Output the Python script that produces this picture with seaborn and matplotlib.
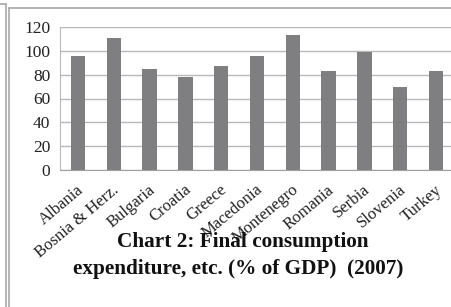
import pandas as pd
import seaborn as sns
import matplotlib
matplotlib.use('Agg')
import matplotlib.pyplot as plt
from matplotlib.lines import Line2D

# Data
countries = ['Albania', 'Bosnia & Herz.', 'Bulgaria', 'Croatia', 'Greece', 'Macedonia',
             'Montenegro', 'Romania', 'Serbia', 'Slovenia', 'Turkey']
values = [96, 111, 85, 78, 87, 96, 113, 83, 99, 70, 83]
y_ticks = [0, 20, 40, 60, 80, 100, 120]

df = pd.DataFrame({'country': countries, 'value': values})

sns.set_style('white')
plt.rcParams['font.family'] = ['Liberation Serif', 'DejaVu Serif']

W, H = 452, 307
fig = plt.figure(figsize=(W / 100, H / 100), dpi=100)
# axes box in pixels: x 60..454, y 27..170
ax = fig.add_axes([60 / W, 1 - 170 / H, 394 / W, 143 / H])

sns.barplot(data=df, x='country', y='value', color='#7f7f81', width=0.4,
            saturation=1, edgecolor='none', ax=ax, zorder=3)

ax.set_ylim(0, 120)
ax.set_xlim(-0.5, len(countries) - 0.5)
ax.set_yticks(y_ticks)
ax.set_yticklabels([str(v) for v in y_ticks], fontsize=12.5, color='#222222')
ax.yaxis.grid(True, color='#b8b8b8', linewidth=1.0, zorder=0)
ax.set_axisbelow(True)
ax.set_xlabel('')
ax.set_ylabel('')

# category boundary ticks on the x axis
ax.set_xticks([i - 0.5 for i in range(len(countries) + 1)])
ax.set_xticklabels([''] * (len(countries) + 1))
ax.tick_params(axis='x', which='major', direction='out', length=4, width=1, color='#a0a0a0')
ax.tick_params(axis='y', length=0, pad=7)

for i, name in enumerate(countries):
    ax.text(i + 0.1, -0.125, name, transform=ax.get_xaxis_transform(), rotation=40,
            ha='right', va='center', rotation_mode='anchor', fontsize=12, color='#222222')

for side in ['top', 'right']:
    ax.spines[side].set_visible(False)
ax.spines['left'].set_color('#b8b8b8')
ax.spines['bottom'].set_color('#a0a0a0')

fig.text(243 / W, 1 - 242 / H, 'Chart 2: Final consumption', ha='center', va='center',
         fontsize=15.3, fontweight='bold', color='#111111')
fig.text(238 / W, 1 - 269 / H, 'expenditure, etc. (% of GDP)  (2007)', ha='center', va='center',
         fontsize=15.3, fontweight='bold', color='#111111')

# frame lines around the chart
frame = '#a8a8a8'
fig.add_artist(Line2D([6.3 / W, 6.3 / W], [0, 1 - 4 / H], color=frame, lw=1.2, transform=fig.transFigure))
fig.add_artist(Line2D([0, 6.3 / W], [1 - 4 / H, 1 - 4 / H], color=frame, lw=1.2, transform=fig.transFigure))
fig.add_artist(Line2D([8.8 / W, 8.8 / W], [0, 1 - 8 / H], color=frame, lw=1.2, transform=fig.transFigure))
fig.add_artist(Line2D([8.8 / W, 1], [1 - 8 / H, 1 - 8 / H], color=frame, lw=1.2, transform=fig.transFigure))

fig.savefig('out.png', dpi=100)
